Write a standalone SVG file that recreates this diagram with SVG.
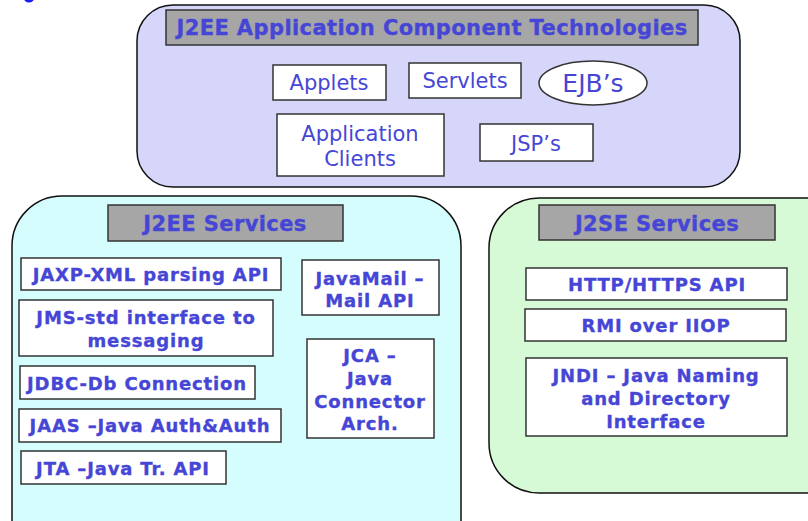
<svg xmlns="http://www.w3.org/2000/svg" width="808" height="521" viewBox="0 0 808 521">
<style>
.box{fill:#fff;stroke:#333;stroke-width:1.5}
.ttl{fill:#a6a6a6;stroke:#333;stroke-width:1.5}
.cont{stroke:#111;stroke-width:1.5}
text{font-family:"DejaVu Sans",Verdana,sans-serif;fill:#4646d6;text-anchor:middle}
.b{font-weight:bold;font-size:18px;letter-spacing:0.85px;stroke:#4646d6;stroke-width:0.35px}
.t{font-weight:bold;font-size:21px;letter-spacing:0.4px;stroke:#4646d6;stroke-width:0.35px}
.n{font-size:21px}
</style>
<rect width="808" height="521" fill="#fff"/>
<circle cx="29" cy="-3" r="5.5" fill="#1a1aff"/>

<g id="components">
<rect class="cont" x="137" y="5" width="603" height="182" rx="36" fill="#d6d6fb"/>
<rect class="ttl" x="166" y="10" width="532" height="35"/>
<text class="t" x="432" y="35">J2EE Application Component Technologies</text>
</g>
<g id="applets"><rect class="box" x="273" y="65" width="113" height="35"/><text class="n" x="329" y="90">Applets</text></g>
<g id="servlets"><rect class="box" x="409" y="63" width="112" height="35"/><text class="n" x="465" y="88">Servlets</text></g>
<g id="ejbs"><ellipse class="box" cx="593" cy="83" rx="54" ry="22"/><text class="n" x="593" y="92" style="font-size:25px">EJB’s</text></g>
<g id="appclients"><rect class="box" x="277" y="114" width="167" height="62"/><text class="n" x="360" y="141">Application</text><text class="n" x="360" y="166">Clients</text></g>
<g id="jsps"><rect class="box" x="480" y="124" width="113" height="37"/><text class="n" x="536" y="151">JSP’s</text></g>

<g id="j2ee-services">
<path class="cont" d="M12,540 V246 A50,50 0 0 1 62,196 H411 A50,50 0 0 1 461,246 V540" fill="#d6fdfd"/>
<rect class="ttl" x="108" y="205" width="235" height="36"/>
<text class="t" x="225" y="231">J2EE Services</text>
</g>
<g id="jaxp"><rect class="box" x="21" y="258" width="260" height="32"/><text class="b" x="151" y="281">JAXP-XML parsing API</text></g>
<g id="jms"><rect class="box" x="19" y="300" width="254" height="56"/><text class="b" x="146" y="324">JMS-std interface to</text><text class="b" x="146" y="347">messaging</text></g>
<g id="jdbc"><rect class="box" x="20" y="366" width="235" height="33"/><text class="b" x="137" y="390">JDBC-Db Connection</text></g>
<g id="jaas"><rect class="box" x="19" y="409" width="262" height="33"/><text class="b" x="150" y="432">JAAS –Java Auth&amp;Auth</text></g>
<g id="jta"><rect class="box" x="21" y="451" width="205" height="33"/><text class="b" x="123" y="475">JTA –Java Tr. API</text></g>
<g id="javamail"><rect class="box" x="302" y="260" width="137" height="55"/><text class="b" x="370" y="285">JavaMail –</text><text class="b" x="370" y="307">Mail API</text></g>
<g id="jca"><rect class="box" x="307" y="339" width="127" height="99"/><text class="b" x="370" y="362">JCA –</text><text class="b" x="370" y="385">Java</text><text class="b" x="370" y="408">Connector</text><text class="b" x="370" y="430">Arch.</text></g>

<g id="j2se-services">
<path class="cont" d="M830,198 H539 A50,50 0 0 0 489,248 V443 A50,50 0 0 0 539,493 H830" fill="#d6fad6"/>
<rect class="ttl" x="539" y="205" width="236" height="35"/>
<text class="t" x="657" y="231">J2SE Services</text>
</g>
<g id="http"><rect class="box" x="526" y="268" width="261" height="32"/><text class="b" x="657" y="291">HTTP/HTTPS API</text></g>
<g id="rmi"><rect class="box" x="525" y="309" width="261" height="32"/><text class="b" x="656" y="332">RMI over IIOP</text></g>
<g id="jndi"><rect class="box" x="526" y="358" width="261" height="78"/><text class="b" x="656" y="382">JNDI – Java Naming</text><text class="b" x="656" y="405">and Directory</text><text class="b" x="656" y="428">Interface</text></g>
<g id="connectors"/>
</svg>
